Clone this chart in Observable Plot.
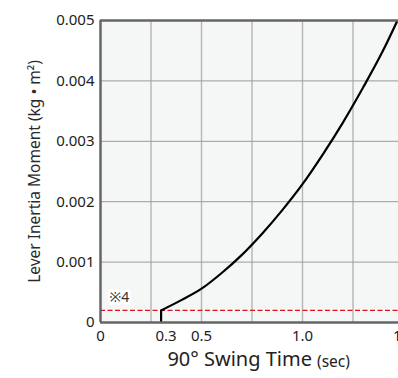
<!DOCTYPE html>
<html>
<head>
<meta charset="utf-8">
<script src="https://cdn.jsdelivr.net/npm/d3@7"></script>
<script src="https://cdn.jsdelivr.net/npm/@observablehq/plot@0.6"></script>
<style>
  html, body { margin: 0; padding: 0; background: #fff; overflow: hidden; width: 398px; height: 378px; }
</style>
</head>
<body>
<div id="chart"></div>
<script>
// Swing time (sec) and lever inertia moment (kg·m²)
const swingTime = [0.30, 0.40, 0.50, 0.60, 0.70, 0.80, 0.90, 1.00, 1.10, 1.20, 1.30, 1.40, 1.47];
const inertia   = [0.00020, 0.00037, 0.00056, 0.00082, 0.00112, 0.00147, 0.00186, 0.00229, 0.00278, 0.00331, 0.00389, 0.00451, 0.00500];
const startTime = [0.30];          // vertical start of the curve
const limitLevel = [0.00020];      // ※4 dashed limit
const noteText = ["※4"];
const xTicks = [0, 0.5, 1.0, 1.5];
const xExtraTick = [0.3];
const xGrid = [0.25, 0.5, 0.75, 1.0, 1.25];
const yTicks = [0, 0.001, 0.002, 0.003, 0.004, 0.005];
const yGrid = [0.001, 0.002, 0.003, 0.004];
const yLabel = "Lever Inertia Moment (kg • m²)";
const xLabelMain = "90° Swing Time";
const xLabelUnit = "(sec)";

const curve = swingTime.map((t, i) => ({t, v: inertia[i]}));
const FONT = "'Noto Sans', sans-serif";
const frameColor = "#666";

const chart = Plot.plot({
  width: 420,
  height: 378,
  marginLeft: 100,
  marginRight: 17,
  marginTop: 20,
  marginBottom: 56,
  style: {maxWidth: "none", fontFamily: FONT, fontSize: "15px", color: "#222", background: "white", overflow: "visible"},
  x: {domain: [0, 1.5]},
  y: {domain: [0, 0.005]},
  marks: [
    Plot.frame({fill: "#f5f6f6", stroke: null}),
    Plot.gridX(xGrid, {stroke: "#b5b5b5", strokeOpacity: 1, strokeWidth: 1.4}),
    Plot.gridY(yGrid, {stroke: "#9a9a9a", strokeOpacity: 1, strokeWidth: 1}),
    Plot.ruleY(limitLevel, {stroke: "#e0101e", strokeWidth: 1.1, strokeDasharray: "5,2.5"}),
    Plot.text(noteText, {y: () => limitLevel[0], frameAnchor: "left", textAnchor: "start", dx: 9, dy: -13,
      fontSize: 14, fill: "#333", stroke: "white", strokeWidth: 6, paintOrder: "stroke"}),
    Plot.ruleX(startTime, {y1: 0, y2: limitLevel[0], stroke: "black", strokeWidth: 2.2}),
    Plot.line(curve, {x: "t", y: "v", stroke: "black", strokeWidth: 2.2, curve: "monotone-x", clip: true}),
    Plot.ruleY([0, 0.005], {stroke: frameColor, strokeWidth: 2.5}),
    Plot.ruleX([0], {stroke: frameColor, strokeWidth: 2.5}),
    Plot.axisY(yTicks, {tickSize: 0, tickPadding: 6, fontSize: 15, fill: "#222", label: null,
      tickFormat: d => d === 0 ? "0" : d3.format(".3f")(d)}),
    Plot.axisX(xTicks, {tickSize: 0, tickPadding: 8, fontSize: 15, fill: "#222", label: null,
      tickFormat: d => d === 0 ? "0" : d.toFixed(1)}),
    Plot.text(xExtraTick, {x: d => d, frameAnchor: "bottom", lineAnchor: "top", dy: 8, dx: 5,
      fontSize: 15, fill: "#222", text: d => d.toFixed(1)}),
    Plot.text([yLabel], {frameAnchor: "left", textAnchor: "middle", rotate: -90, dx: -65, fontSize: 15.5, fill: "#2a2a2a"}),
    Plot.text([xLabelMain], {frameAnchor: "bottom", textAnchor: "end", dx: 60, dy: 43, fontSize: 20, fill: "#222"}),
    Plot.text([xLabelUnit], {frameAnchor: "bottom", textAnchor: "start", dx: 65, dy: 44, fontSize: 15.5, fill: "#222"})
  ]
});
document.getElementById("chart").appendChild(chart);
</script>
</body>
</html>
